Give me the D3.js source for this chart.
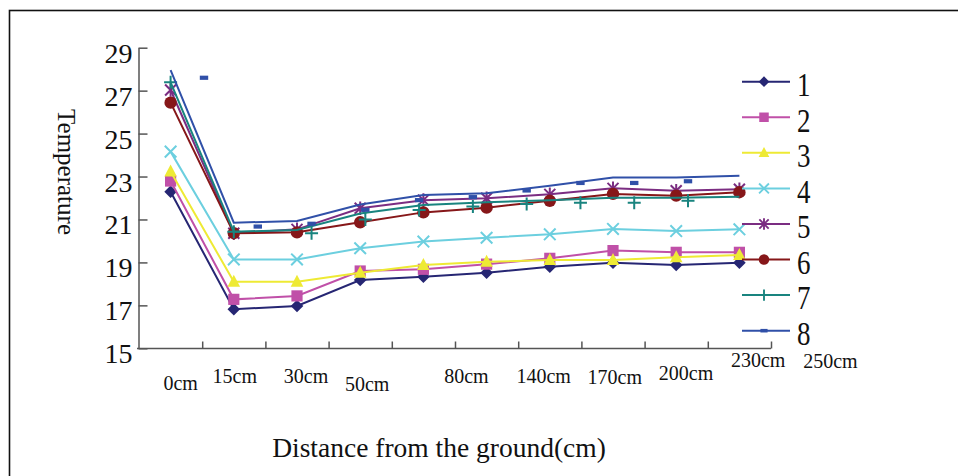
<!DOCTYPE html>
<html>
<head>
<meta charset="utf-8">
<script src="https://cdn.jsdelivr.net/npm/d3@7"></script>
<style>
  body { margin: 0; background: #fff; }
  text { font-family: "Liberation Serif", "DejaVu Serif", serif; fill: #111; }
</style>
</head>
<body>
<svg width="958" height="476"></svg>
<script>
// categories and tick labels
var heights = ["0cm", "15cm", "30cm", "50cm", "80cm", "140cm", "170cm", "200cm", "230cm", "250cm"];
var seriesNames = ["1", "2", "3", "4", "5", "6", "7", "8"];
var yTicks = [15, 17, 19, 21, 23, 25, 27, 29];

// temperature per series
var s1 = [22.29, 16.82, 16.97, 18.18, 18.33, 18.52, 18.80, 18.99, 18.88, 18.99];
var s2 = [22.79, 17.28, 17.44, 18.60, 18.68, 18.92, 19.19, 19.55, 19.47, 19.47];
var s3 = [23.23, 18.10, 18.10, 18.52, 18.88, 19.03, 19.11, 19.11, 19.24, 19.35];
var s4 = [24.16, 19.14, 19.14, 19.66, 19.97, 20.15, 20.31, 20.56, 20.46, 20.54];
var s5 = [27.03, 20.36, 20.54, 21.52, 21.90, 21.99, 22.17, 22.45, 22.34, 22.41];
var s6 = [26.44, 20.36, 20.40, 20.87, 21.33, 21.55, 21.87, 22.19, 22.11, 22.27];
var s7 = [27.39, 20.43, 20.51, 21.28, 21.67, 21.80, 21.90, 22.01, 22.01, 22.06];
var s8 = [27.96, 20.85, 20.93, 21.70, 22.14, 22.22, 22.57, 22.95, 22.95, 23.04];

// markers of series 7 and 8 sit off the line in the original
var s7Marks = [27.39, 20.43, 20.36, 21.00, 21.44, 21.60, 21.72, 21.78, 21.78, 21.87];
var s8Marks = [27.60, 20.67, 20.80, 21.45, 21.90, 22.04, 22.35, 22.70, 22.70, 22.78];

// hand placed x labels: [dx from band centre, baseline]
var labelShift = [[10, 390], [1, 383], [9, 383], [7, 391], [43, 383], [57, 383], [65, 384], [73, 380], [82, 367], [91, 368]];

var allSeries = [s1, s2, s3, s4, s5, s6, s7, s8];
var colors = ["#262673", "#c050a8", "#eeea34", "#6ccfdf", "#7b2d82", "#861719", "#19847f", "#3050a8"];
var shapes = ["diamond", "square", "triangle", "cross", "star", "circle", "plus", "dash"];

var svg = d3.select("svg");

// frame
svg.append("rect")
	.attr("x", 9.5).attr("y", 10.5)
	.attr("width", 1000).attr("height", 1000)
	.attr("fill", "none")
	.attr("stroke", "#111")
	.attr("stroke-width", 1.6);

var x = d3.scaleBand().domain(heights).range([139, 771]);
var xl = d3.scaleLinear().domain([0, heights.length]).range([139, 771]);
var xm = d3.scaleLinear().domain([0, heights.length - 1]).range([204, 688]);
var y = d3.scaleLinear().domain([15, 29]).range([348.3, 47.7]);

var cx = function(i) { return x(heights[i]) + x.bandwidth() / 2; };

// y axis, ticks pointing inward
var yAxis = svg.append("g")
	.attr("transform", "translate(138.5,0)")
	.call(d3.axisLeft(y).tickValues(yTicks).tickSizeInner(-9).tickSizeOuter(0).tickPadding(6));
yAxis.selectAll("path, line").attr("stroke", "#555").attr("stroke-width", 1.5);
yAxis.selectAll("text")
	.attr("dy", 14.5)
	.style("font-size", "28px")
	.style("font-family", "Liberation Serif")
	.attr("fill", "#111");

// x axis
var xAxis = svg.append("g")
	.attr("transform", "translate(0,348.5)")
	.call(d3.axisBottom(xl).tickValues(d3.range(1, heights.length + 1)).tickSizeInner(-7).tickSizeOuter(0).tickFormat(""));
xAxis.selectAll("path, line").attr("stroke", "#555").attr("stroke-width", 1.5);
xAxis.select("path").attr("d", "M137,0H771");

svg.selectAll(".xlab")
	.data(heights)
	.enter()
	.append("text")
	.attr("class", "xlab")
	.attr("x", function(d, i) { return cx(i) + labelShift[i][0]; })
	.attr("y", function(d, i) { return labelShift[i][1]; })
	.attr("text-anchor", "middle")
	.style("font-size", "20px")
	.text(function(d) { return d; });

// axis titles
svg.append("text")
	.attr("transform", "translate(58,172) rotate(90)")
	.attr("text-anchor", "middle")
	.style("font-size", "25px")
	.text("Temperature");

svg.append("text")
	.attr("x", 439).attr("y", 457)
	.attr("text-anchor", "middle")
	.style("font-size", "27.5px")
	.text("Distance from the ground(cm)");

var markerPath = function(type) {
	switch (type) {
		case "diamond": return "M0,-6.3L6.3,0L0,6.3L-6.3,0Z";
		case "square": return "M-5.6,-5.6H5.6V5.6H-5.6Z";
		case "triangle": return "M0,-7L6.3,5L-6.3,5Z";
		case "cross": return "M-5.8,-5.8L5.8,5.8M-5.8,5.8L5.8,-5.8";
		case "star": return "M-5.5,-5.5L5.5,5.5M-5.5,5.5L5.5,-5.5M0,-6.8V6.8";
		case "circle": return d3.symbol().type(d3.symbolCircle).size(120)();
		case "plus": return "M-6.5,0H6.5M0,-6.5V6.5";
		case "dash": return "M-4.2,-2.1H4.2V2.1H-4.2Z";
	}
};
var isStroked = function(type) {
	return type == "cross" || type == "star" || type == "plus";
};

var line = d3.line()
	.x(function(d, i) { return cx(i); })
	.y(function(d) { return y(d); });

var plot = svg.append("g");

allSeries.forEach(function(vals, k) {
	var g = plot.append("g");
	g.append("path")
		.attr("d", line(vals))
		.attr("fill", "none")
		.attr("stroke", colors[k])
		.attr("stroke-width", 2);

	var pts = vals.map(function(v, i) { return [cx(i), y(v)]; });
	if (k == 6) pts = s7Marks.map(function(v, i) { return [i < 2 ? cx(i) : xm(i), y(v)]; });
	if (k == 7) pts = s8Marks.map(function(v, i) { return [xm(i), y(v)]; });

	g.selectAll(".mk")
		.data(pts)
		.enter()
		.append("path")
		.attr("class", "mk")
		.attr("transform", function(d) { return "translate(" + d[0] + "," + d[1] + ")"; })
		.attr("d", markerPath(shapes[k]))
		.attr("fill", isStroked(shapes[k]) ? "none" : colors[k])
		.attr("stroke", isStroked(shapes[k]) ? colors[k] : "none")
		.attr("stroke-width", 2);
});

// legend
var legend = svg.selectAll(".legend")
	.data(seriesNames)
	.enter()
	.append("g")
	.attr("class", "legend")
	.attr("transform", function(d, i) { return "translate(0," + (81.7 + i * 35.57) + ")"; });

legend.append("line")
	.attr("x1", 742).attr("x2", 790)
	.attr("stroke", function(d, i) { return colors[i]; })
	.attr("stroke-width", 2);

legend.append("path")
	.attr("transform", "translate(764,0) scale(0.85)")
	.attr("d", function(d, i) { return markerPath(shapes[i]); })
	.attr("fill", function(d, i) { return isStroked(shapes[i]) ? "none" : colors[i]; })
	.attr("stroke", function(d, i) { return isStroked(shapes[i]) ? colors[i] : "none"; })
	.attr("stroke-width", 2.2);

legend.append("text")
	.attr("transform", "translate(797,14.3) scale(1,1.28)")
	.style("font-size", "27px")
	.text(function(d) { return d; });
</script>
</body>
</html>
